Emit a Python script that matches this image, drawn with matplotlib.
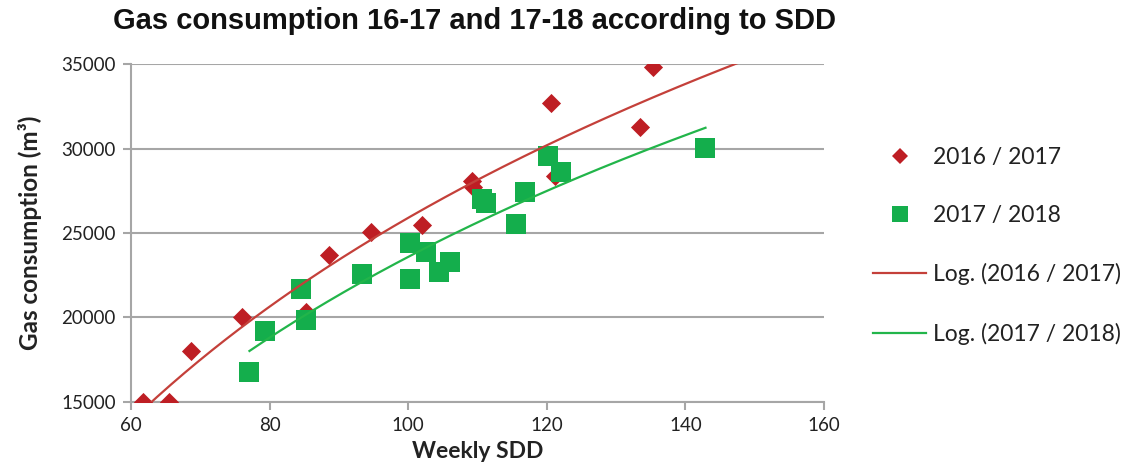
import numpy as np
import matplotlib
matplotlib.use("Agg")
import matplotlib.pyplot as plt
from matplotlib.lines import Line2D

# Weekly SDD vs gas consumption, season 2016/2017
sdd_1617 = [61.8, 65.5, 68.6, 76.0, 85.2, 88.6, 94.7, 102.0, 109.2, 109.3,
            120.6, 121.2, 133.4, 135.3]
gas_1617 = [15000, 15000, 18000, 20000, 20300, 23700, 25050, 25500, 28100, 27700,
            32700, 28400, 31250, 34800]

# season 2017/2018
sdd_1718 = [77.1, 79.4, 84.6, 85.2, 93.4, 100.3, 100.2, 102.6, 104.5, 106.1,
            110.7, 111.3, 115.5, 116.9, 120.2, 122.1, 142.9]
gas_1718 = [16750, 19200, 21700, 19850, 22550, 24400, 22300, 23900, 22700, 23300,
            27000, 26750, 25550, 27450, 29550, 28600, 30050]

x_ticks = [60, 80, 100, 120, 140, 160]
y_ticks = [15000, 20000, 25000, 30000, 35000]

RED = "#BE1E24"
GREEN = "#14AE4C"
RED_LINE = "#C4403A"
GREEN_LINE = "#22B54A"
GRID = "#A6A6A6"
LABEL_FONT = "Lato"


def log_fit(x, y):
    # least squares fit of y = a*ln(x) + b
    a, b = np.polyfit(np.log(x), y, 1)
    return a, b


fig = plt.figure(figsize=(11.28, 4.69), dpi=100)
ax = fig.add_axes([0.1161, 0.1429, 0.6144, 0.7206])

ax.scatter(sdd_1617, gas_1617, marker="D", s=95, color=RED, zorder=3, linewidths=0)
ax.scatter(sdd_1718, gas_1718, marker="s", s=190, color=GREEN, zorder=3, linewidths=0)

a1, b1 = log_fit(sdd_1617, gas_1617)
xs1 = np.linspace(min(sdd_1617), 160, 200)
ax.plot(xs1, a1 * np.log(xs1) + b1, color=RED_LINE, lw=1.6, zorder=4)

a2, b2 = log_fit(sdd_1718, gas_1718)
xs2 = np.linspace(min(sdd_1718), max(sdd_1718), 200)
ax.plot(xs2, a2 * np.log(xs2) + b2, color=GREEN_LINE, lw=1.6, zorder=4)

ax.set_xlim(60, 160)
ax.set_ylim(15000, 35000)
ax.set_xticks(x_ticks)
ax.set_yticks(y_ticks)
ax.grid(axis="y", color=GRID, lw=1.5)
ax.set_axisbelow(True)
for side in ("top", "right"):
    ax.spines[side].set_visible(False)
for side in ("left", "bottom"):
    ax.spines[side].set_color(GRID)
    ax.spines[side].set_linewidth(1.5)
ax.tick_params(axis="both", colors=GRID, width=1.5, length=6, labelsize=13.5,
               labelcolor="#222222", pad=5)
for lab in ax.get_xticklabels() + ax.get_yticklabels():
    lab.set_family(LABEL_FONT)

ax.set_xlabel("Weekly SDD", family=LABEL_FONT, fontsize=16.5, fontweight="bold",
              color="#222222", labelpad=5)
ax.set_ylabel("Gas consumption (m\u00b3)", family=[LABEL_FONT, "DejaVu Sans"],
              fontsize=17.5, fontweight="bold", color="#222222", labelpad=14)

fig.text(0.421, 0.955, "Gas consumption 16-17 and 17-18 according to SDD",
         family="Liberation Sans", fontsize=21, fontweight="bold",
         ha="center", va="center", color="#111111")

handles = [
    Line2D([], [], marker="D", ls="none", color=RED, markersize=8, markeredgewidth=0),
    Line2D([], [], marker="s", ls="none", color=GREEN, markersize=12, markeredgewidth=0),
    Line2D([], [], color=RED_LINE, lw=1.6),
    Line2D([], [], color=GREEN_LINE, lw=1.6),
]
labels = ["2016 / 2017", "2017 / 2018", "Log. (2016 / 2017)", "Log. (2017 / 2018)"]
fig.legend(handles, labels, loc="center left", bbox_to_anchor=(0.756, 0.476),
           frameon=False, prop={"family": LABEL_FONT, "size": 16.5},
           labelspacing=1.62, handlelength=2.3, handletextpad=0.3,
           labelcolor="#222222")

fig.savefig("out.png", dpi=100)
